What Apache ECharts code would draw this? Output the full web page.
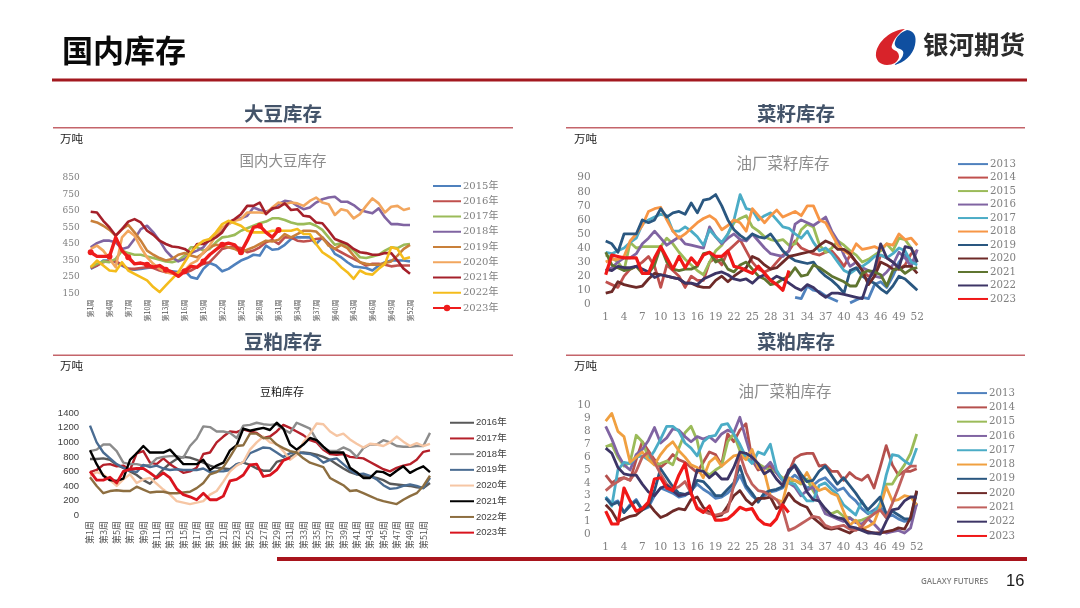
<!DOCTYPE html>
<html>
<head>
<meta charset="utf-8">
<style>html,body{margin:0;padding:0;background:#fff}#c{width:1080px;height:608px}</style>
<script src="https://cdn.jsdelivr.net/npm/echarts@6/dist/echarts.min.js"></script>
</head>
<body>
<div id="c"></div>
<script>
// Weekly stock levels by crop year; null marks weeks with no figure.
const weeks = Array.from({length: 52}, (_, i) => String(i + 1));
const weekNames = weeks.map(w => '第' + w + '周');

// Soybean port stocks (万吨)
const soyYears = ['2015年','2016年','2017年','2018年','2019年','2020年','2021年','2022年','2023年'];
const soy2015 = [300,320,350,350,340,320,300,295,300,305,310,300,290,285,280,290,250,240,300,335,320,285,300,325,350,365,385,380,440,415,420,445,480,490,490,490,450,490,450,390,370,340,315,310,305,290,320,340,350,350,350,345];
const soy2016 = [305,320,340,350,345,325,300,300,305,310,305,290,280,275,275,275,290,310,330,340,380,420,430,430,425,400,410,430,460,475,450,490,490,470,465,470,480,485,450,420,400,380,360,340,320,330,330,325,315,320,320,320];
const soy2017 = [310,330,345,340,360,410,395,385,385,375,365,355,345,340,350,380,430,430,410,420,460,490,495,505,530,545,560,575,585,605,605,595,580,570,570,575,560,535,490,445,455,440,410,370,365,375,385,410,430,425,445,450];
const soy2018 = [430,455,470,470,460,420,430,480,540,560,520,470,410,370,345,360,395,410,430,480,505,530,570,595,605,620,670,655,645,660,690,710,705,680,660,670,700,720,730,735,705,705,685,655,645,635,665,610,570,570,565,565];
const soy2019 = [590,580,560,535,500,540,565,520,470,410,385,365,350,360,385,395,380,370,395,430,445,440,430,420,400,415,430,450,470,465,475,510,490,510,530,530,525,490,440,420,445,425,380,340,330,325,325,335,345,380,420,445];
const soy2020 = [420,440,410,360,310,490,530,500,430,370,330,300,280,270,275,290,330,350,400,440,500,550,570,590,600,640,640,640,635,670,700,690,700,695,680,710,730,700,690,625,660,650,605,630,680,725,695,640,675,680,655,665];
const soy2021 = [645,640,590,550,500,540,585,600,580,530,505,470,450,435,430,420,395,450,450,470,490,520,580,600,630,680,680,700,630,665,670,695,655,660,620,615,580,575,530,480,465,450,420,400,395,385,385,395,395,350,300,270];
const soy2022 = [310,350,320,290,285,340,290,270,250,230,190,160,200,240,280,340,400,440,470,480,520,570,590,575,560,530,520,520,520,530,530,530,530,540,510,510,450,400,375,350,310,280,240,290,270,265,300,330,430,420,360,370];
const soy2023 = [400,375,375,375,490,410,370,330,335,325,310,320,295,280,255,285,315,310,345,385,415,445,455,445,400,470,550,560,520,490,535];
const soySeries = [soy2015,soy2016,soy2017,soy2018,soy2019,soy2020,soy2021,soy2022,soy2023];
const soyTicks = [150,250,350,450,550,650,750,850];

// Rapeseed mill stocks (万吨)
const rapeYears = ['2013','2014','2015','2016','2017','2018','2019','2020','2021','2022','2023'];
const seed2013 = [null,null,null,null,null,null,null,null,null,null,null,null,null,null,null,null,null,null,null,null,null,null,null,null,null,null,null,null,null,null,null,5,4,13,10,9,6,4,2,null,1,3,5,4,14,16,12,20,30,35,31,30];
const seed2014 = [16,14,12,20,25,27,30,34,27,12,28,24,20,12,20,17,17,30,33,28,38,42,46,38,30,25,23,25,30,35,38,45,40,38,36,35,37,38,33,27,35,30,24,20,22,35,33,30,25,28,36,38];
const seed2015 = [35,33,30,24,44,40,41,41,41,41,47,43,37,32,28,24,21,30,38,42,50,58,61,63,55,52,48,46,45,46,42,43,53,57,55,42,37,40,45,42,38,35,30,32,35,38,43,38,47,46,40,30];
const seed2016 = [24,26,30,33,33,36,43,47,52,47,42,45,48,43,42,41,40,55,48,43,47,50,46,45,50,45,40,36,35,34,38,57,60,58,56,59,62,52,45,35,27,30,26,24,20,19,23,28,37,33,27,39];
const seed2017 = [37,36,38,40,44,47,57,60,62,64,63,52,52,55,52,48,42,53,48,44,50,60,78,68,67,60,63,65,60,55,54,50,47,52,44,38,40,36,30,24,22,25,27,30,34,35,33,36,40,38,30,28];
const seed2018 = [30,32,32,34,45,50,56,66,68,69,60,52,47,50,54,58,61,63,60,53,56,60,58,52,68,63,58,63,67,62,64,66,63,70,70,60,58,50,42,38,35,43,39,40,41,39,43,42,50,46,47,42];
const seed2019 = [45,43,37,50,50,50,60,58,60,68,62,65,66,64,72,65,74,75,78,70,60,53,49,46,50,48,47,50,44,38,34,31,30,29,30,24,20,17,13,8,24,26,20,17,15,11,8,13,20,18,14,10];
const seed2020 = [8,9,16,14,13,12,13,18,22,21,20,19,18,15,15,13,12,12,17,20,16,20,23,26,34,32,28,25,26,30,34,35,36,37,38,42,45,43,39,39,36,30,24,14,20,30,28,25,25,27,27,22];
const seed2021 = [37,28,26,24,25,27,22,22,28,41,30,25,24,25,25,27,36,37,30,32,25,23,28,30,25,20,18,14,15,18,20,26,20,21,28,26,23,20,18,16,13,13,22,24,23,21,13,24,26,22,25,26];
const seed2022 = [25,24,27,26,26,27,25,23,19,21,20,19,18,15,15,14,18,20,22,23,21,18,17,18,15,19,21,17,20,18,15,12,10,14,12,8,5,8,8,7,6,5,4,17,25,43,33,30,26,41,40,30];
const seed2023 = [21,35,34,33,33,33,22,22,33,41,33,25,34,26,33,28,35,37,34,34,38,27,26,24,22,27,22,17,14,10,24];
const seedSeries = [seed2013,seed2014,seed2015,seed2016,seed2017,seed2018,seed2019,seed2020,seed2021,seed2022,seed2023];

// Soybean meal stocks (万吨)
const mealYears = ['2016年','2017年','2018年','2019年','2020年','2021年','2022年','2023年'];
const meal2016 = [770,770,780,760,690,650,600,550,480,430,530,630,710,770,800,790,760,720,680,650,640,630,700,720,690,640,610,610,730,760,800,850,860,850,830,800,760,700,640,590,560,540,530,510,480,430,420,410,400,380,370,440];
const meal2017 = [590,620,690,700,670,680,620,850,880,720,700,780,700,640,580,600,650,840,860,1000,1080,1150,1140,1180,1150,1130,1060,1080,1150,1240,1200,1150,1100,1030,1000,900,840,830,840,800,790,780,730,680,630,600,650,680,700,760,870,890];
const meal2018 = [880,900,970,970,880,720,700,700,680,690,780,800,810,810,790,950,1050,1220,1210,1150,1150,1130,1060,1230,1240,1270,1250,1240,1250,1180,1130,1270,1230,1190,1030,920,880,880,930,890,800,920,970,970,1030,1000,950,940,940,950,950,1130];
const meal2019 = [1230,1000,860,780,700,650,610,590,690,660,680,640,620,630,620,620,620,640,590,600,600,620,700,720,850,890,930,920,860,800,850,870,850,840,800,720,760,780,700,620,560,570,540,490,410,360,370,400,420,400,370,510];
const meal2020 = [540,590,560,480,400,490,560,440,490,510,430,350,280,190,170,150,170,190,280,330,460,600,680,730,900,1000,1080,1000,980,880,760,830,1000,1120,1260,1250,1150,1090,1120,1040,980,930,980,970,950,1000,1080,1010,950,990,950,980];
const meal2021 = [890,700,540,480,470,500,760,850,950,860,860,860,900,800,700,700,700,760,620,680,720,890,960,1190,1160,1180,1200,1170,1270,1190,970,900,970,1060,1030,940,860,860,860,650,590,510,510,600,590,540,610,670,580,630,670,590];
const meal2022 = [520,400,300,330,340,330,330,390,350,310,320,320,300,300,310,320,370,440,560,590,660,800,950,960,1120,1120,1060,1060,970,920,880,860,780,720,690,660,510,460,410,330,340,300,260,220,190,170,150,210,260,300,400,540];
const meal2023 = [600,480,480,520,440,600,630,640,640,580,510,580,510,360,280,250,210,300,210,210,260,470,490,550,690,700,530,550,620,750,790];
const mealSeries = [meal2016,meal2017,meal2018,meal2019,meal2020,meal2021,meal2022,meal2023];

// Rapeseed meal mill stocks (万吨)
const cake2013 = [2.9,2.4,2.6,1.7,2.3,2.7,1.9,2.1,3.0,3.6,3.4,3.2,2.9,3.0,3.4,3.9,3.5,3.2,2.8,2.9,3.2,3.7,4.6,3.6,3.0,2.6,3.0,3.3,3.4,3.6,4.2,4.6,4.2,3.6,3.8,4.2,4.4,3.9,3.4,3.6,3.0,2.6,2.0,1.6,1.9,2.2,1.3,1.5,1.2,1.0,1.1,2.4];
const cake2014 = [4.6,4.0,4.3,4.4,4.2,5.8,7.2,6.5,5.8,5.2,5.6,6.2,5.8,5.6,5.2,4.8,5.6,6.4,6.2,5.4,7.8,7.2,8.1,8.6,5.8,5.0,5.2,5.3,4.8,4.2,4.8,5.9,6.2,6.3,6.3,5.3,5.4,4.9,4.9,4.2,4.8,4.4,4.2,4.6,3.6,5.2,6.9,5.4,4.6,4.9,4.9,5.1];
const cake2015 = [6.8,7.0,6.0,5.3,5.6,7.7,7.2,6.0,5.4,5.5,5.7,5.4,6.7,7.9,8.4,7.3,5.0,4.6,5.0,5.3,7.2,7.8,6.5,6.0,5.7,5.5,5.2,5.0,4.8,4.4,4.0,4.2,3.9,4.3,3.4,2.6,1.8,1.6,1.8,1.4,1.3,1.0,1.1,1.3,1.6,2.4,3.9,3.9,4.7,5.4,6.3,7.8];
const cake2016 = [8.4,7.4,6.2,5.4,5.0,6.2,6.6,7.3,8.3,7.1,7.5,8.2,8.1,7.6,7.2,7.6,7.4,7.6,7.2,7.8,8.1,7.9,9.1,7.4,5.8,5.2,5.1,5.6,4.8,4.2,4.0,3.7,3.0,3.4,3.7,2.6,1.6,1.4,1.2,1.0,1.3,0.9,0.8,1.2,0.8,0.3,0.1,0.2,0.3,0.1,0.5,2.4];
const cake2017 = [2.9,2.2,5.0,5.6,5.5,6.0,6.1,5.8,6.5,7.4,8.4,8.4,8.0,7.1,6.7,6.1,7.2,7.6,7.7,8.5,8.6,7.8,7.0,6.0,5.5,6.4,6.2,7.0,5.0,4.2,4.0,3.9,3.2,2.6,2.6,3.8,4.0,3.5,3.1,2.3,1.9,1.5,2.6,1.7,1.6,2.4,4.6,6.2,6.1,5.7,5.4,6.7];
const cake2018 = [8.8,9.4,8.0,7.6,5.6,6.0,6.4,5.8,5.4,6.2,6.8,7.2,6.5,6.0,5.4,5.2,4.4,5.6,6.0,5.3,5.7,6.1,6.2,5.8,6.6,5.2,4.9,3.0,2.7,2.5,4.4,4.2,4.0,4.8,3.9,3.4,3.6,3.2,3.0,1.8,0.7,1.1,0.4,0.6,0.9,2.1,3.7,2.6,2.7,3.0,2.9,2.3];
const cake2019 = [2.8,2.3,2.5,1.7,2.2,2.6,1.9,2.2,3.4,5.1,4.4,3.7,3.2,3.1,3.3,4.2,4.1,3.6,3.0,3.0,3.5,4.0,5.3,3.8,3.2,2.5,3.2,3.4,3.5,3.7,4.8,5.4,4.7,4.1,4.2,4.9,5.3,4.6,3.9,4.4,3.8,3.2,2.5,1.9,2.4,2.9,1.6,1.8,1.5,1.2,1.2,3.3];
const cake2020 = [2.3,1.8,1.0,1.2,1.4,1.5,1.9,2.4,1.8,1.3,1.5,1.8,2.0,1.9,2.7,2.9,2.1,1.7,1.4,1.5,2.2,3.0,3.4,2.7,2.3,2.8,2.8,2.9,2.0,2.3,3.2,2.6,2.3,2.1,1.3,0.9,0.5,0.4,0.5,0.3,0.1,0.4,0.4,0.2,0.1,0.1,0.2,0.3,0.5,0.4,1.3,3.4];
const cake2021 = [3.4,3.8,4.1,4.4,4.2,4.9,6.0,6.4,5.6,4.7,3.9,3.5,3.7,4.1,3.2,2.1,1.8,1.6,1.5,1.6,1.8,3.8,6.2,4.8,3.9,3.4,3.3,3.0,2.7,2.0,0.3,0.5,0.8,1.1,1.4,1.3,0.7,0.5,0.6,0.7,0.4,0.3,0.6,1.2,1.6,1.9,1.3,2.4,3.6,4.9,5.3,5.3];
const cake2022 = [6.7,6.3,5.2,4.7,4.6,4.6,3.9,3.3,3.0,3.6,3.8,3.4,3.0,3.1,3.2,5.0,4.9,4.4,4.8,4.3,4.3,5.2,6.4,6.3,6.0,5.5,4.7,5.0,4.3,3.8,5.0,5.3,4.4,3.3,2.7,2.6,2.0,1.5,1.3,1.2,0.6,0.5,0.3,0.1,0.1,0.0,1.0,1.9,2.0,2.6,2.9,2.9];
const cake2023 = [1.8,0.8,0.8,3.6,2.6,1.8,2.0,2.5,4.3,4.4,3.6,3.4,4.6,5.5,3.2,2.0,1.7,2.2,1.1,1.1,1.2,1.6,2.1,1.9,2.0,1.2,0.8,0.7,1.2,2.3,1.7];
const cakeSeries = [cake2013,cake2014,cake2015,cake2016,cake2017,cake2018,cake2019,cake2020,cake2021,cake2022,cake2023];

const soyColors = ['#4F81BD','#C0504D','#9BBB59','#8064A2','#C9803A','#F2A65E','#A5202A','#F4BC1C','#EE1C1C'];
const rapeColors = ['#4F81BD','#C0504D','#9BBB59','#8064A2','#4BACC6','#F79646','#2A5780','#6E2A28','#5F7530','#3D3566','#F01818'];
const cakeColors = ['#4F81BD','#B5504D','#9BBB59','#8064A2','#4BACC6','#F0A040','#2A5780','#6E2A28','#C0605D','#3D3566','#F01818'];
const mealColors = ['#595959','#B5202A','#8C8C8C','#4A6C92','#F6C6A4','#000000','#8D6E40','#D9141E'];

const panels = [
  {left: 90.7, top: 177.7, width: 319.3, height: 116, min: 150, max: 850, ticks: soyTicks, names: soyYears, data: soySeries, colors: soyColors,
   xNames: weekNames, every: 2, rotate: 90, xSize: 7, xMargin: 6, lineW: 2.6, lastW: 3.4, yFont: 'DejaVu Serif', yColor: '#7f7f7f', ySize: 9, yMargin: 11,
   legend: {left: 432, top: 181, gap: 5.25, width: 28, size: 10}},
  {left: 605.7, top: 177.7, width: 311.6, height: 126.6, min: 0, max: 90, ticks: [0,10,20,30,40,50,60,70,80,90], names: rapeYears, data: seedSeries, colors: rapeColors,
   xNames: weeks, every: 2, rotate: 0, xSize: 10.5, xMargin: 7, lineW: 2.8, lastW: 3.2, yFont: 'DejaVu Serif', yColor: '#7f7f7f', ySize: 10.5, yMargin: 15,
   legend: {left: 957, top: 159, gap: 3.3, width: 30, size: 10.2}},
  {left: 90, top: 413.3, width: 340, height: 101.7, min: 0, max: 1400, ticks: [0,200,400,600,800,1000,1200,1400], names: mealYears, data: mealSeries, colors: mealColors,
   xNames: weekNames, every: 1, rotate: 90, xSize: 9, xMargin: 6, lineW: 2.4, lastW: 2.8, yFont: 'Liberation Sans', yColor: '#404040', ySize: 9.5, yMargin: 11,
   legend: {left: 449, top: 418, gap: 6.2, width: 24, size: 9.5}},
  {left: 605.7, top: 405.7, width: 311, height: 128.6, min: 0, max: 10, ticks: [0,1,2,3,4,5,6,7,8,9,10], names: rapeYears, data: cakeSeries, colors: cakeColors,
   xNames: weeks, every: 2, rotate: 0, xSize: 10.5, xMargin: 7, lineW: 2.8, lastW: 3.2, yFont: 'DejaVu Serif', yColor: '#7f7f7f', ySize: 10.5, yMargin: 15,
   legend: {left: 956, top: 388, gap: 4.1, width: 30, size: 10.2}}
];

// Two halves of the company mark, drawn in a 40x36 box.
echarts.graphic.registerShape('markRed', echarts.graphic.extendPath(
  'M30 0 C16 1 3 12 1 24 C0 31 5 36 12 36 C18 36 23 33 24 28 C24 24 22 22 19 21 C17 20 16 18 17 16 C19 10 24 4 30 0 Z', {}));
echarts.graphic.registerShape('markBlue', echarts.graphic.extendPath(
  'M32 1 C26 3 21 8 20 13 C19 16 21 19 25 20 C28 21 29 23 28 26 C27 30 23 33 19 36 C29 34 38 26 40 16 C42 7 39 2 32 1 Z', {}));

// Series in different panels share year labels, so each key carries its panel number.
const seriesKey = (i, name) => i + ':' + name;

const option = {
  animation: false,
  grid: panels.map(p => ({left: p.left, top: p.top, width: p.width, height: p.height, containLabel: false})),
  xAxis: panels.map((p, i) => ({
    type: 'category', gridIndex: i, data: p.xNames, boundaryGap: false,
    axisLine: {show: false}, axisTick: {show: false}, splitLine: {show: false},
    axisLabel: {interval: p.every, rotate: p.rotate, fontSize: p.xSize, color: p.rotate ? '#555' : '#7f7f7f',
      fontFamily: p.rotate ? '"Noto Sans CJK SC"' : 'DejaVu Serif', margin: p.xMargin, hideOverlap: false}
  })),
  yAxis: panels.map((p, i) => ({
    type: 'value', gridIndex: i, min: p.min, max: p.max,
    axisLine: {show: false}, axisTick: {show: false}, splitLine: {show: false},
    axisLabel: {customValues: p.ticks, formatter: v => String(v), fontSize: p.ySize, color: p.yColor, fontFamily: p.yFont, margin: p.yMargin}
  })),
  legend: panels.map((p, i) => ({
    orient: 'vertical', left: p.legend.left, top: p.legend.top, itemWidth: p.legend.width, itemHeight: 8, itemGap: p.legend.gap,
    padding: 0, selectedMode: false, itemStyle: {opacity: 0},
    data: p.names.map((n, k) => i === 0 && k === p.names.length - 1
      ? {name: seriesKey(i, n), itemStyle: {opacity: 1}}
      : {name: seriesKey(i, n)}),
    formatter: key => key.split(':')[1],
    textStyle: {fontSize: p.legend.size, color: i === 2 ? '#404040' : '#7f7f7f', fontFamily: i === 2 ? 'Liberation Sans,"Noto Sans CJK SC"' : 'DejaVu Serif,"Noto Sans CJK SC"', padding: [0, 0, 0, -3]}
  })),
  series: panels.flatMap((p, i) => p.data.map((values, k) => {
    const last = k === p.data.length - 1;
    const marked = i === 0 && last;
    return {
      type: 'line', name: seriesKey(i, p.names[k]), xAxisIndex: i, yAxisIndex: i, data: values,
      symbol: marked ? 'circle' : 'none', symbolSize: 6, showSymbol: marked,
      connectNulls: false, silent: true,
      lineStyle: {width: last ? p.lastW : p.lineW, color: p.colors[k], join: 'round'},
      itemStyle: {color: p.colors[k]}
    };
  })),
  graphic: {elements: [
    // Page header
    {type: 'text', x: 62, y: 35, style: {text: '国内库存', font: 'bold 31px "Noto Sans CJK SC"', fill: '#0a0a0a'}},
    {type: 'rect', shape: {x: 52, y: 78.5, width: 975, height: 3}, style: {fill: '#A3191F'}},
    // Company mark
    {type: 'markRed', x: 875, y: 29, style: {fill: '#D8232A'}},
    {type: 'markBlue', x: 875, y: 29, style: {fill: '#0F4FA0'}},
    {type: 'text', x: 923, y: 32, style: {text: '银河期货', font: 'bold 25.5px "Noto Sans CJK SC"', fill: '#2b2b2b'}},
    // Section headings
    ...[['大豆库存', 283, 104, 53, 127, 460], ['菜籽库存', 796, 104, 566, 127, 459], ['豆粕库存', 283, 332, 53, 354.5, 460], ['菜粕库存', 796, 332, 566, 354.5, 459]].flatMap(h => [
      {type: 'text', x: h[1], y: h[2], style: {text: h[0], font: 'bold 19.5px "Noto Sans CJK SC"', fill: '#44546A', align: 'center'}},
      {type: 'rect', shape: {x: h[3], y: h[4], width: h[5], height: 1.4}, style: {fill: '#C4646A'}}
    ]),
    // Units
    ...[[60, 133], [574, 133], [60, 360], [574, 360]].map(u => (
      {type: 'text', x: u[0], y: u[1], style: {text: '万吨', font: '11.5px "Noto Sans CJK SC"', fill: '#1a1a1a'}}
    )),
    // Chart captions
    {type: 'text', x: 283, y: 153, style: {text: '国内大豆库存', font: '14.5px "Noto Sans CJK SC"', fill: '#8c8c8c', align: 'center'}},
    {type: 'text', x: 783, y: 155, style: {text: '油厂菜籽库存', font: '15.5px "Noto Sans CJK SC"', fill: '#8c8c8c', align: 'center'}},
    {type: 'text', x: 282, y: 386, style: {text: '豆粕库存', font: '11px "Noto Sans CJK SC"', fill: '#1a1a1a', align: 'center'}},
    {type: 'text', x: 785, y: 383, style: {text: '油厂菜粕库存', font: '15.5px "Noto Sans CJK SC"', fill: '#8c8c8c', align: 'center'}},
    // Footer
    {type: 'rect', shape: {x: 277, y: 557, width: 750, height: 4}, style: {fill: '#A8141C'}},
    {type: 'text', x: 921, y: 578, style: {text: 'GALAXY FUTURES', font: '600 8px "Open Sans"', fill: '#7f7f7f'}},
    {type: 'text', x: 1006, y: 573, style: {text: '16', font: '16.5px "Liberation Sans"', fill: '#1a1a1a'}}
  ]}
};

const chart = echarts.init(document.getElementById('c'));
chart.setOption(option);
</script>
</body>
</html>
